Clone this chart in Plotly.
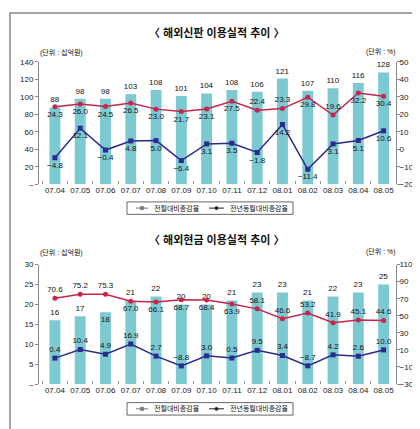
import plotly.graph_objects as go

# categories (months)
months = ["07.04", "07.05", "07.06", "07.07", "07.08", "07.09", "07.10",
          "07.11", "07.12", "08.01", "08.02", "08.03", "08.04", "08.05"]

# overseas credit sales (십억원) and growth rates (%)
credit_amount = [88, 98, 98, 103, 108, 101, 104, 108, 106, 121, 107, 110, 116, 128]
credit_yoy = [24.3, 26.0, 24.5, 26.5, 23.0, 21.7, 23.1, 27.5, 22.4, 23.3, 29.8, 19.6, 32.2, 30.4]
credit_mom = [-4.8, 12.1, -0.4, 4.8, 5.0, -6.4, 3.1, 3.5, -1.8, 14.2, -11.4, 3.1, 5.1, 10.6]

# overseas cash withdrawals (십억원) and growth rates (%)
cash_amount = [16, 17, 18, 21, 22, 20, 20, 21, 23, 23, 21, 22, 23, 25]
cash_yoy = [70.6, 75.2, 75.3, 67.0, 66.1, 68.7, 68.4, 63.9, 58.1, 46.6, 53.2, 41.9, 45.1, 44.6]
cash_mom = [0.4, 10.4, 4.9, 16.9, 2.7, -8.8, 3.0, 0.5, 9.5, 3.4, -8.7, 4.2, 2.6, 10.0]

mom_name = "전월대비증감율"
yoy_name = "전년동월대비증감율"

BAR = "#7dc9d2"
RED = "#c7254b"
NAVY = "#2c2a8c"
FONT = "Liberation Sans, Noto Sans CJK KR"

W, H = 420, 429


def px_x(x):
    return x / W


def px_y(y):
    return 1 - y / H


def fmt(v):
    return f"{v:.1f}".replace("-", "−")


# label placement (above / below marker)
credit_yoy_pos = ["bottom center"] * 14
for i in (8, 9, 11):
    credit_yoy_pos[i] = "top center"
credit_mom_pos = ["bottom center"] * 14
cash_yoy_pos = ["top center"] * 3 + ["bottom center"] * 5 + ["top center"] * 6
cash_mom_pos = ["top center"] * 14
cash_bar_pos = ["outside"] * 14
cash_bar_pos[2] = "inside"

fig = go.Figure()

panels = [
    ("x", "y", "y2", credit_amount, credit_yoy, credit_mom, credit_yoy_pos, credit_mom_pos,
     ["outside"] * 14),
    ("x2", "y3", "y4", cash_amount, cash_yoy, cash_mom, cash_yoy_pos, cash_mom_pos,
     cash_bar_pos),
]

for xa, yl, yr, amt, yoy, mom, yoy_pos, mom_pos, bar_pos in panels:
    fig.add_trace(go.Bar(
        x=months, y=amt, xaxis=xa, yaxis=yl, width=0.43,
        marker=dict(color=BAR, line=dict(width=0)),
        text=[str(v) for v in amt], textposition=bar_pos, constraintext="none", textangle=0,
        textfont=dict(size=8, color="#111", family=FONT),
        insidetextfont=dict(size=8, color="#111", family=FONT),
        insidetextanchor="end", cliponaxis=False, showlegend=False,
    ))
    fig.add_trace(go.Scatter(
        x=months, y=yoy, xaxis=xa, yaxis=yr, mode="lines+markers+text",
        line=dict(color=RED, width=1.5), marker=dict(color=RED, size=5, symbol="circle"),
        text=[fmt(v) for v in yoy], textposition=yoy_pos,
        textfont=dict(size=8, color="#111", family=FONT),
        cliponaxis=False, showlegend=False,
    ))
    fig.add_trace(go.Scatter(
        x=months, y=mom, xaxis=xa, yaxis=yr, mode="lines+markers+text",
        line=dict(color=NAVY, width=1.5), marker=dict(color=NAVY, size=5, symbol="square"),
        text=[fmt(v) for v in mom], textposition=mom_pos,
        textfont=dict(size=8, color="#111", family=FONT),
        cliponaxis=False, showlegend=False,
    ))

xdom = [px_x(31), px_x(388)]
xcommon = dict(
    type="category", range=[-0.63, 13.49], domain=xdom, showgrid=False,
    showline=False, ticks="inside", ticklen=3, tickcolor="#999", tickson="boundaries",
    tickangle=0, tickfont=dict(size=8, color="#222", family=FONT), zeroline=False,
)
ycommon = dict(
    showgrid=False, zeroline=False, showline=True, linecolor="#888", linewidth=1,
    ticks="outside", ticklen=3, tickcolor="#888",
    tickfont=dict(size=8, color="#222", family=FONT),
)

left_top = list(range(0, 141, 20))
right_top = list(range(-20, 51, 10))
left_bot = list(range(0, 31, 5))
right_bot = list(range(-30, 111, 20))


def labels(vals, dash_zero=False):
    out = []
    for v in vals:
        if dash_zero and v == 0:
            out.append("–")
        else:
            out.append(str(v).replace("-", "−"))
    return out


fig.update_layout(
    width=W, height=H, margin=dict(l=0, r=0, t=0, b=0),
    paper_bgcolor="white", plot_bgcolor="white",
    font=dict(family=FONT, size=8, color="#222"),
    showlegend=False,
    xaxis=dict(**xcommon, anchor="y"),
    yaxis=dict(**ycommon, domain=[px_y(176), px_y(51)], range=[0, 140],
               tickvals=left_top, ticktext=labels(left_top, True), anchor="x"),
    yaxis2=dict(**ycommon, domain=[px_y(176), px_y(51)], range=[-20, 50], overlaying="y",
                side="right", tickvals=right_top, ticktext=labels(right_top), anchor="x",
                ticklabelstandoff=-2),
    xaxis2=dict(**xcommon, anchor="y3"),
    yaxis3=dict(**ycommon, domain=[px_y(380), px_y(258)], range=[0, 30],
                tickvals=left_bot, ticktext=labels(left_bot, True), anchor="x2"),
    yaxis4=dict(**ycommon, domain=[px_y(380), px_y(258)], range=[-30, 110], overlaying="y3",
                side="right", tickvals=right_bot, ticktext=labels(right_bot), anchor="x2",
                ticklabelstandoff=-2),
)

# titles and unit notes
notes = [
    ("〈 해외신판 이용실적 추이 〉", 208, 21, 11, "center", True),
    ("〈 해외현금 이용실적 추이 〉", 208, 232, 11, "center", True),
    ("(단위 : 십억원)", 30, 41, 7, "left", False),
    ("(단위 : %)", 390, 40, 7, "right", False),
    ("(단위 : 십억원)", 30, 246, 7, "left", False),
    ("(단위 : %)", 390, 245, 7, "right", False),
]
for text, x, y, size, anchor, bold in notes:
    fig.add_annotation(
        text=f"<b>{text}</b>" if bold else text, x=px_x(x), y=px_y(y),
        xref="paper", yref="paper", xanchor=anchor, yanchor="middle",
        showarrow=False, font=dict(size=size, color="#111", family=FONT),
    )


# legend boxes, drawn the way the original shows them (grey square / black dot)
def legend_box(top):
    mid = top + 6.3
    fig.add_shape(type="rect", xref="paper", yref="paper",
                  x0=px_x(119), x1=px_x(285), y0=px_y(top + 12.7), y1=px_y(top),
                  line=dict(color="#666", width=1), fillcolor="white")
    entries = [(128, 140, "square", "#777", mom_name), (201, 216, "circle", "#222", yoy_name)]
    for x0, x1, sym, col, name in entries:
        fig.add_shape(type="line", xref="paper", yref="paper",
                      x0=px_x(x0), x1=px_x(x1), y0=px_y(mid), y1=px_y(mid),
                      line=dict(color=col, width=1))
        cx = (x0 + x1) / 2
        fig.add_shape(type="rect" if sym == "square" else "circle", xref="paper", yref="paper",
                      x0=px_x(cx - 1.7), x1=px_x(cx + 1.7), y0=px_y(mid + 1.7), y1=px_y(mid - 1.7),
                      line=dict(color=col, width=0.5), fillcolor=col)
        fig.add_annotation(text=name, x=px_x(x1 + 4), y=px_y(mid), xref="paper", yref="paper",
                           xanchor="left", yanchor="middle", showarrow=False,
                           font=dict(size=7, color="#111", family=FONT))


legend_box(194)
legend_box(399)

# outer frame
fig.add_shape(type="rect", xref="paper", yref="paper",
              x0=px_x(2), x1=px_x(417), y0=px_y(427), y1=px_y(1),
              line=dict(color="#888", width=1.5))

fig.write_html("out.html")
